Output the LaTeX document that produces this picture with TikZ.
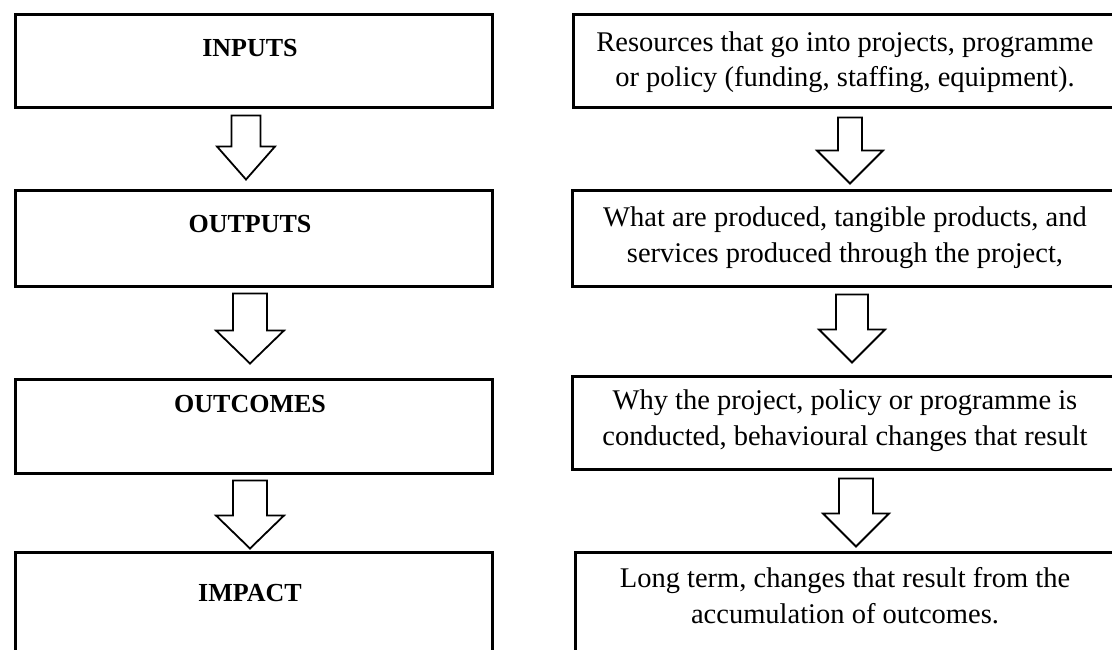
\documentclass[tikz,border=0pt]{standalone}
\usepackage{fontspec}
\setmainfont{Liberation Serif}
\usetikzlibrary{calc}
\tikzset{
  boxstyle/.style={draw=black, line width=3pt, fill=white, rectangle, inner sep=0pt},
  headstyle/.style={font=\fontsize{26}{35}\selectfont\bfseries, anchor=base, inner sep=0pt},
  descstyle/.style={font=\fontsize{28.5}{35.5}\selectfont, anchor=base, align=center, inner sep=0pt},
  arrowstyle/.style={draw=black, line width=1.8pt, fill=white, line join=miter}
}
% #1 from node, #2 to node, #3 centre x, #4 gap below source, #5 gap above target, #6 half shaft, #7 half head
\newcommand\blockarrow[7]{%
  \draw[arrowstyle] let \p1=(#1.south), \p2=(#2.north) in
    ({(#3-#6)*1pt},{\y1-#4pt}) -- ({(#3+#6)*1pt},{\y1-#4pt})
    -- ({(#3+#6)*1pt},{\y2+#5pt+33pt}) -- ({(#3+#7)*1pt},{\y2+#5pt+33pt})
    -- ({#3*1pt},{\y2+#5pt}) -- ({(#3-#7)*1pt},{\y2+#5pt+33pt})
    -- ({(#3-#6)*1pt},{\y2+#5pt+33pt}) -- cycle;}
\begin{document}
\begin{tikzpicture}[x=1pt,y=-1pt]
\useasboundingbox (0,0) rectangle (1112,650);
\fill[white] (0,0) rectangle (1112,650);
\clip (0,0) rectangle (1112,650);

% left column boxes
\node[boxstyle, minimum width=477pt, minimum height=93pt, anchor=north west] (in)  at (13.5,13.5) {};
\node[boxstyle, minimum width=477pt, minimum height=95pt, anchor=north west] (out) at (13.5,189.5) {};
\node[boxstyle, minimum width=477pt, minimum height=94pt, anchor=north west] (oc)  at (13.5,377.5) {};
\node[boxstyle, minimum width=477pt, minimum height=150pt, anchor=north west] (im) at (13.5,550.5) {};

\node[headstyle] (tin)  at (250,57)  {INPUTS};
\node[headstyle] (tout) at (250,233) {OUTPUTS};
\node[headstyle] (toc)  at (250,412) {OUTCOMES};
\node[headstyle] (tim)  at (250,601) {IMPACT};

% right column boxes
\node[boxstyle, minimum width=560pt, minimum height=93pt, anchor=north west] (rin)  at (571.5,13.5) {};
\node[boxstyle, minimum width=560pt, minimum height=95pt, anchor=north west] (rout) at (570.5,189.5) {};
\node[boxstyle, minimum width=560pt, minimum height=93pt, anchor=north west] (roc)  at (570.5,374.5) {};
\node[boxstyle, minimum width=560pt, minimum height=150pt, anchor=north west] (rim) at (573.5,550.5) {};

\node[descstyle] (trin)  at (845,87)  {Resources that go into projects, programme\\or policy (funding, staffing, equipment).};
\node[descstyle] (trout) at (845,262) {What are produced, tangible products, and\\services produced through the project,};
\node[descstyle] (troc)  at (845,445) {Why the project, policy or programme is\\conducted, behavioural changes that result};
\node[descstyle] (trim)  at (845,623) {Long term, changes that result from the\\accumulation of outcomes.};

% arrows
\blockarrow{in}{out}{246}{6}{10}{14.5}{29}
\blockarrow{out}{oc}{250}{6}{14}{17}{34}
\blockarrow{oc}{im}{250}{6}{2}{17}{34}
\blockarrow{rin}{rout}{850}{8}{6}{12}{33}
\blockarrow{rout}{roc}{852}{7}{12}{16}{33}
\blockarrow{roc}{rim}{856}{8}{4}{17}{33}
\end{tikzpicture}
\end{document}
